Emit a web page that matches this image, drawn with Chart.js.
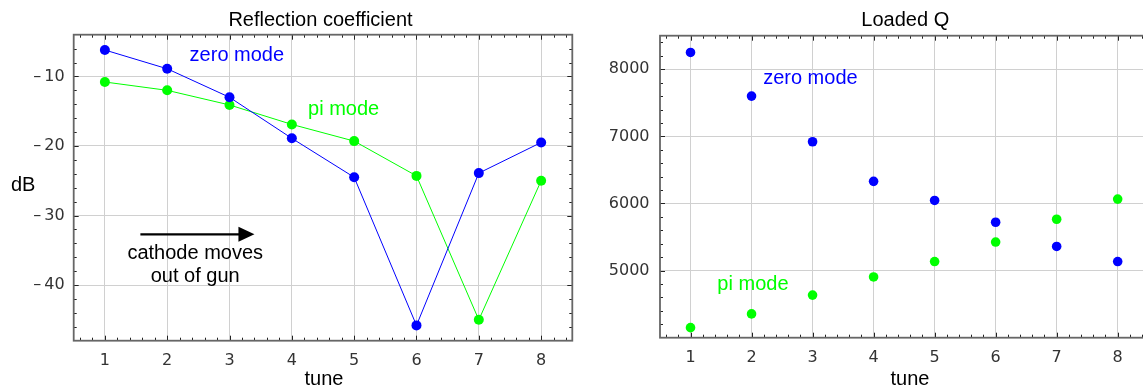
<!DOCTYPE html>
<html><head><meta charset="utf-8">
<script src="https://cdn.jsdelivr.net/npm/chart.js@4.4.1/dist/chart.umd.min.js"></script>
<style>
html,body{margin:0;padding:0;background:#fff;overflow:hidden;width:1143px;height:390px;}
#wrap{position:relative;width:1143px;height:390px;overflow:hidden;}
.c{position:absolute;top:0;height:390px;}
#c1{left:0;width:580px;}
#c2{left:580px;width:600px;}
</style></head><body>
<div id="wrap">
<div class="c" id="c1"><canvas id="left" width="580" height="390"></canvas></div>
<div class="c" id="c2"><canvas id="right" width="600" height="390"></canvas></div>
</div>
<script>
// ---- data ----
const tunes = [1, 2, 3, 4, 5, 6, 7, 8];
const xTickLabels = ['1', '2', '3', '4', '5', '6', '7', '8'];
const reflZero = [-6.2, -8.9, -13.0, -18.9, -24.5, -45.8, -23.9, -19.5];
const reflPi   = [-10.8, -12.0, -14.1, -16.9, -19.3, -24.3, -45.0, -25.0];
const reflYTicks = [-40, -30, -20, -10];
const reflYTickLabels = ['\u2013\u200940', '\u2013\u200930', '\u2013\u200920', '\u2013\u200910'];
const qZero = [8250, 7600, 6920, 6330, 6045, 5720, 5360, 5135];
const qPi   = [4150, 4355, 4635, 4905, 5135, 5425, 5765, 6065];
const qYTicks = [5000, 6000, 7000, 8000];
const qYTickLabels = ['5000', '6000', '7000', '8000'];

const BLUE = '#0000ff', GREEN = '#00ff00';
const TEXTFONT = '20px "Liberation Sans", Arial, sans-serif';

Chart.defaults.font.family = '"DejaVu Sans", sans-serif';
Chart.defaults.font.size = 16;
Chart.defaults.color = '#333';
Chart.defaults.animation = false;

function pts(xs, ys) { return xs.map((x, i) => ({ x: x, y: ys[i] })); }

// frame, inward ticks and text overlay
function overlayPlugin(cfg) {
  return {
    id: 'overlay',
    afterDraw(chart) {
      const ctx = chart.ctx, a = chart.chartArea;
      const xs = chart.scales.x, ys = chart.scales.y;
      ctx.save();
      // ticks
      ctx.strokeStyle = '#222';
      ctx.lineWidth = 1;
      ctx.beginPath();
      for (let v = cfg.xMinorStart; v <= cfg.xMinorEnd + 1e-9; v += cfg.xMinorStep) {
        const major = Math.abs(v - Math.round(v)) < 1e-6;
        const len = major ? 5 : 3;
        const px = Math.round(xs.getPixelForValue(v)) + 0.5;
        ctx.moveTo(px, a.bottom); ctx.lineTo(px, a.bottom - len);
        ctx.moveTo(px, a.top); ctx.lineTo(px, a.top + len);
      }
      for (let v = cfg.yMinorStart; v <= cfg.yMinorEnd + 1e-9; v += cfg.yMinorStep) {
        const major = Math.abs(v / cfg.yMajorStep - Math.round(v / cfg.yMajorStep)) < 1e-6;
        const len = major ? 5 : 3;
        const py = Math.round(ys.getPixelForValue(v)) + 0.5;
        ctx.moveTo(a.left, py); ctx.lineTo(a.left + len, py);
        ctx.moveTo(a.right, py); ctx.lineTo(a.right - len, py);
      }
      ctx.stroke();
      // frame
      ctx.strokeStyle = '#666';
      ctx.lineWidth = 1.8;
      ctx.strokeRect(a.left, a.top, a.right - a.left, a.bottom - a.top);
      // texts
      ctx.font = TEXTFONT;
      ctx.textBaseline = 'alphabetic';
      cfg.pixelTexts.forEach(t => {
        ctx.fillStyle = t.color; ctx.textAlign = t.align;
        ctx.fillText(t.text, t.x, t.y);
      });
      cfg.dataTexts.forEach(t => {
        ctx.fillStyle = t.color; ctx.textAlign = t.align;
        ctx.fillText(t.text, xs.getPixelForValue(t.x), ys.getPixelForValue(t.y));
      });
      if (cfg.arrow) {
        const ar = cfg.arrow;
        const x0 = xs.getPixelForValue(ar.x0), x1 = xs.getPixelForValue(ar.x1), y = ys.getPixelForValue(ar.y);
        ctx.strokeStyle = '#000'; ctx.fillStyle = '#000'; ctx.lineWidth = 2.2;
        ctx.beginPath(); ctx.moveTo(x0, y); ctx.lineTo(x1 - 14, y); ctx.stroke();
        ctx.beginPath(); ctx.moveTo(x1, y); ctx.lineTo(x1 - 16, y - 7.5); ctx.lineTo(x1 - 16, y + 7.5); ctx.closePath(); ctx.fill();
      }
      ctx.restore();
    }
  };
}

function makeChart(id, o) {
  return new Chart(document.getElementById(id), {
    type: 'scatter',
    data: {
      datasets: [
        { data: pts(tunes, o.zero), borderColor: BLUE, backgroundColor: BLUE, pointBorderColor: BLUE,
          pointRadius: o.r, pointBorderWidth: 0, borderWidth: 1, showLine: o.lines, pointHoverRadius: o.r },
        { data: pts(tunes, o.pi), borderColor: GREEN, backgroundColor: GREEN, pointBorderColor: GREEN,
          pointRadius: o.r, pointBorderWidth: 0, borderWidth: 1, showLine: o.lines, pointHoverRadius: o.r }
      ]
    },
    options: {
      responsive: false,
      layout: { padding: { top: o.top, right: o.right, left: 0, bottom: 0 } },
      plugins: { legend: { display: false }, tooltip: { enabled: false }, title: { display: false } },
      scales: {
        x: {
          type: 'linear', min: 0.5, max: 8.5,
          afterBuildTicks: s => { s.ticks = tunes.map(v => ({ value: v })); },
          afterFit: s => { s.height = o.xH; },
          ticks: { padding: o.xPad, callback: (v, i) => xTickLabels[i], font: { size: 16 }, color: '#333' },
          grid: { color: '#d0d0d0', lineWidth: 1, drawTicks: false },
          border: { display: false }
        },
        y: {
          type: 'linear', min: o.yMin, max: o.yMax,
          afterBuildTicks: s => { s.ticks = o.yTicks.map(v => ({ value: v })); },
          afterFit: s => { s.width = o.yW; },
          ticks: { padding: o.yPad, callback: (v, i) => o.yLabels[i], font: { size: 16 }, color: '#333' },
          grid: { color: '#d0d0d0', lineWidth: 1, drawTicks: false },
          border: { display: false }
        }
      }
    },
    plugins: [overlayPlugin(o.overlay)]
  });
}

makeChart('left', {
  zero: reflZero, pi: reflPi, r: 5, lines: true,
  top: 34.7, right: 7.7, xH: 49.3, yW: 73.7, xPad: 11, yPad: 9,
  yMin: -48, yMax: -4, yTicks: reflYTicks, yLabels: reflYTickLabels,
  overlay: {
    xMinorStart: 0.6, xMinorEnd: 8.4, xMinorStep: 0.2,
    yMinorStart: -46, yMinorEnd: -6, yMinorStep: 2, yMajorStep: 10,
    pixelTexts: [
      { text: 'Reflection coefficient', x: 320.5, y: 26, color: '#000', align: 'center' },
      { text: 'dB', x: 11, y: 191, color: '#000', align: 'left' },
      { text: 'tune', x: 324, y: 385, color: '#000', align: 'center' }
    ],
    dataTexts: [
      { text: 'zero mode', x: 2.36, y: -7.8, color: BLUE, align: 'left' },
      { text: 'pi mode', x: 4.26, y: -15.55, color: GREEN, align: 'left' },
      { text: 'cathode moves', x: 2.45, y: -36.25, color: '#000', align: 'center' },
      { text: 'out of gun', x: 2.45, y: -39.5, color: '#000', align: 'center' }
    ],
    arrow: { x0: 1.57, x1: 3.4, y: -32.7 }
  }
});

makeChart('right', {
  zero: qZero, pi: qPi, r: 4.8, lines: false,
  top: 35.7, right: 31.8, xH: 52.3, yW: 80, xPad: 11, yPad: 10.5,
  yMin: 4000, yMax: 8500, yTicks: qYTicks, yLabels: qYTickLabels,
  overlay: {
    xMinorStart: 0.6, xMinorEnd: 8.4, xMinorStep: 0.2,
    yMinorStart: 4200, yMinorEnd: 8400, yMinorStep: 200, yMajorStep: 1000,
    pixelTexts: [
      { text: 'Loaded Q', x: 325.3, y: 26, color: '#000', align: 'center' },
      { text: 'tune', x: 330, y: 385, color: '#000', align: 'center' }
    ],
    dataTexts: [
      { text: 'zero mode', x: 2.19, y: 7780, color: BLUE, align: 'left' },
      { text: 'pi mode', x: 1.44, y: 4711, color: GREEN, align: 'left' }
    ],
    arrow: null
  }
});
</script>
</body></html>
